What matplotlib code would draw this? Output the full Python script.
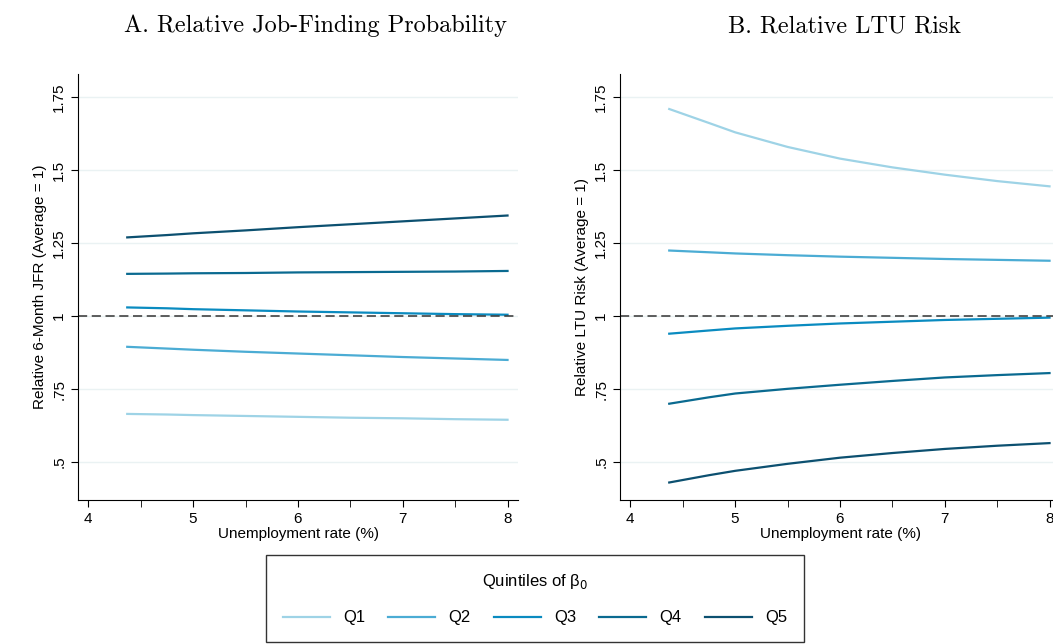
import matplotlib
matplotlib.use('Agg')
import matplotlib.pyplot as plt
import numpy as np

# Data
urate = [4.37, 4.75, 5, 5.5, 6, 6.5, 7, 7.5, 8]
jfr = {
    'Q1': [0.665, 0.663, 0.661, 0.658, 0.655, 0.652, 0.650, 0.647, 0.645],
    'Q2': [0.895, 0.889, 0.885, 0.878, 0.872, 0.866, 0.860, 0.855, 0.850],
    'Q3': [1.030, 1.027, 1.024, 1.020, 1.016, 1.013, 1.010, 1.007, 1.005],
    'Q4': [1.145, 1.146, 1.147, 1.148, 1.150, 1.151, 1.152, 1.153, 1.155],
    'Q5': [1.270, 1.278, 1.284, 1.294, 1.305, 1.315, 1.325, 1.335, 1.345],
}
ltu = {
    'Q1': [1.710, 1.662, 1.630, 1.580, 1.540, 1.510, 1.485, 1.463, 1.445],
    'Q2': [1.225, 1.219, 1.215, 1.209, 1.204, 1.200, 1.196, 1.193, 1.190],
    'Q3': [0.940, 0.951, 0.958, 0.967, 0.975, 0.981, 0.987, 0.991, 0.995],
    'Q4': [0.700, 0.722, 0.735, 0.751, 0.765, 0.778, 0.790, 0.798, 0.805],
    'Q5': [0.430, 0.455, 0.470, 0.494, 0.515, 0.531, 0.545, 0.556, 0.565],
}
colours = {'Q1': '#9ed3e6', 'Q2': '#4bacd4', 'Q3': '#0a8bc0',
           'Q4': '#0a6a90', 'Q5': '#0c5070'}
yticks = [0.5, 0.75, 1, 1.25, 1.5, 1.75]
yticklabels = ['.5', '.75', '1', '1.25', '1.5', '1.75']

plt.rcParams['font.family'] = ['Liberation Sans', 'DejaVu Sans']
plt.rcParams['axes.formatter.use_mathtext'] = True

fig = plt.figure(figsize=(10.53, 6.44), dpi=100)
W, H = 1053, 644
axA = fig.add_axes([78/W, 1-500/H, 440/W, 426/H])
axB = fig.add_axes([620/W, 1-500/H, 440/W, 426/H])

def panel(ax, data, ylabel, title, tx):
    for q, vals in data.items():
        ax.plot(urate, vals, color=colours[q], lw=1.6, label=q)
    ax.axhline(1, color='#333333', lw=1.1, ls=(0, (6, 3)))
    ax.set_xlim(3.9, 8.1)
    ax.set_ylim(0.37, 1.83)
    ax.set_yticks(yticks)
    ax.set_yticklabels(yticklabels, rotation=90, va='center')
    ax.set_xticks([4, 5, 6, 7, 8])
    ax.set_xticks([4.5, 5.5, 6.5, 7.5], minor=True)
    ax.tick_params(which='both', length=5, labelsize=11)
    ax.grid(axis='y', color='#eaf2f3', lw=1)
    ax.set_axisbelow(True)
    for s in ['top', 'right']:
        ax.spines[s].set_visible(False)
    ax.set_xlabel('Unemployment rate (%)', fontsize=11, labelpad=1)
    ax.set_ylabel(ylabel, fontsize=11)
    fig.text(tx, 1-26/H, title, fontsize=17.5, family='cmr10', ha='center', va='center')

panel(axA, jfr, 'Relative 6-Month JFR (Average = 1)', 'A. Relative Job-Finding Probability', 316/W)
panel(axB, ltu, 'Relative LTU Risk (Average = 1)', 'B. Relative LTU Risk', 845/W)

h, l = axA.get_legend_handles_labels()
leg = fig.legend(h, l, loc='lower center', bbox_to_anchor=(0.508, -0.01), ncol=5,
                 title=r'Quintiles of β$_0$', fontsize=12, title_fontsize=12,
                 frameon=True, fancybox=False, edgecolor='black', handlelength=2.8,
                 columnspacing=1.4, borderpad=1.0, labelspacing=1.0)
leg.get_frame().set_linewidth(1)
leg._legend_box.sep = 14

fig.savefig('out.png', dpi=100)
